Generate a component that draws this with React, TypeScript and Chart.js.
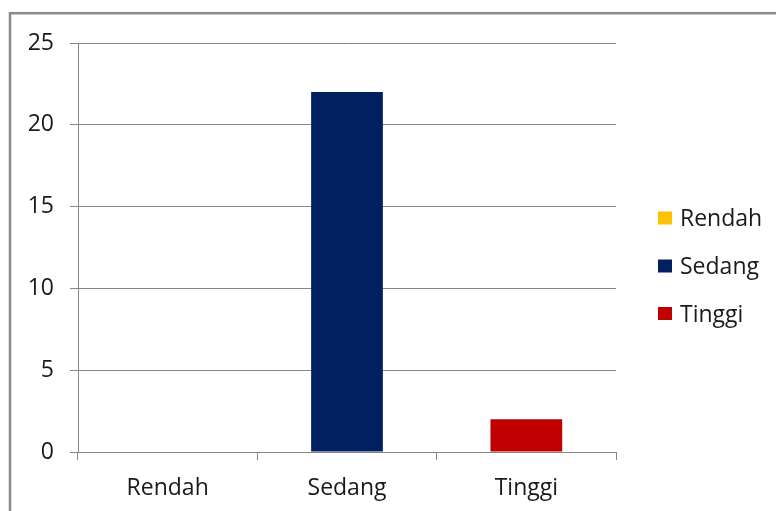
import React, { useEffect, useRef } from "react";
import { Chart, registerables } from "chart.js";

Chart.register(...registerables);

const categories = ["Rendah", "Sedang", "Tinggi"];
const seriesNames = ["Rendah", "Sedang", "Tinggi"];
const seriesValues = [0, 22, 2];
const seriesColors = ["#FFC000", "#002060", "#C00000"];
const yTicks = [0, 5, 10, 15, 20, 25];

const FONT = "'Open Sans', sans-serif";
const FONT_SIZE = 23;
const GRID = "#868686";
const TEXT = "#1a1a1a";

const framePlugin = {
  id: "frame",
  beforeDraw(chart: any) {
    const ctx = chart.ctx;
    ctx.save();
    ctx.fillStyle = "#ffffff";
    ctx.fillRect(0, 0, chart.width, chart.height);
    ctx.strokeStyle = "#8a8a8a";
    ctx.lineWidth = 2.5;
    ctx.strokeRect(10, 13.2, chart.width + 20, chart.height + 20);
    ctx.restore();
  },
};

const legendPlugin = {
  id: "customLegend",
  afterDraw(chart: any) {
    const ctx = chart.ctx;
    ctx.save();
    ctx.font = `${FONT_SIZE}px ${FONT}`;
    ctx.textBaseline = "alphabetic";
    ctx.textAlign = "left";
    const x = 658;
    const ys = [218, 266, 313.5];
    chart.data.datasets.forEach((ds: any, i: number) => {
      const y = ys[i];
      ctx.fillStyle = ds.backgroundColor;
      ctx.fillRect(x, y - 6.5, 14, 13);
      ctx.fillStyle = TEXT;
      ctx.fillText(ds.label, x + 22, y + 8);
    });
    ctx.restore();
  },
};

export default function App() {
  const ref = useRef<HTMLCanvasElement>(null);
  useEffect(() => {
    document.body.style.margin = "0";
    const datasets = seriesNames.map((name, i) => ({
      label: name,
      data: categories.map((_, j) => (j === i ? seriesValues[i] : null)),
      backgroundColor: seriesColors[i],
      borderColor: seriesColors[i],
      borderWidth: 0,
      barPercentage: 0.4,
      categoryPercentage: 1,
    }));
    const chart = new Chart(ref.current!, {
      type: "bar",
      data: { labels: categories, datasets },
      plugins: [framePlugin, legendPlugin],
      options: {
        animation: false,
        responsive: false,
        maintainAspectRatio: false,
        layout: { padding: { left: 0, top: 43, right: 160, bottom: 0 } },
        plugins: { legend: { display: false }, tooltip: { enabled: false } },
        scales: {
          x: {
            stacked: true,
            offset: true,
            grid: {
              display: true,
              offset: true,
              drawOnChartArea: false,
              drawTicks: true,
              tickLength: 8,
              color: GRID,
            },
            border: { display: true, color: GRID },
            ticks: {
              font: { family: FONT, size: FONT_SIZE },
              color: TEXT,
              padding: 15,
            },
            afterFit(scale: any) {
              scale.height = 59;
            },
          },
          y: {
            stacked: true,
            min: 0,
            max: 25,
            afterBuildTicks(scale: any) {
              scale.ticks = yTicks.map((v) => ({ value: v }));
            },
            grid: { color: GRID, tickLength: 8, drawTicks: true },
            border: { display: true, color: GRID },
            ticks: {
              font: { family: FONT, size: FONT_SIZE },
              color: TEXT,
              padding: 16,
            },
            afterFit(scale: any) {
              scale.width = 78;
            },
          },
        },
      },
    });
    return () => chart.destroy();
  }, []);
  return (
    <canvas
      ref={ref}
      width={776}
      height={511}
      style={{ display: "block", width: 776, height: 511 }}
    />
  );
}
